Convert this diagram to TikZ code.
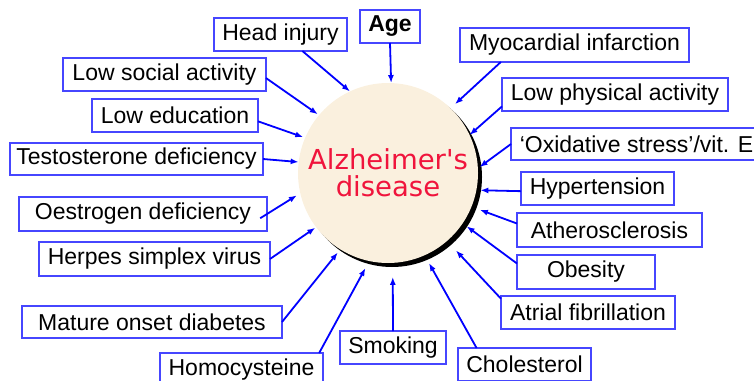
\documentclass[tikz,border=0pt]{standalone}
\usepackage{fontspec}
\setmainfont{Liberation Sans}
\newfontfamily\alzfont{DejaVu Sans}
\usetikzlibrary{arrows.meta,shadows}
\definecolor{riskblue}{RGB}{0,0,255}
\definecolor{boxblue}{RGB}{70,70,255}
\definecolor{alzred}{RGB}{240,20,60}
\definecolor{alzbeige}{RGB}{250,240,222}
\tikzset{
  factor/.style={draw=boxblue, line width=1.5pt, minimum height=33pt,
    inner sep=0pt, outer sep=0pt, font=\fontsize{23}{27}\selectfont},
  riskarrow/.style={-{Latex[length=8pt,width=6pt]}, riskblue, line width=1.8pt}
}

\begin{document}
\begin{tikzpicture}[x=1pt, y=-1pt]
  \useasboundingbox (0,0) rectangle (754,380);

  % Central disease
  \node[circle, fill=alzbeige, minimum size=180pt, inner sep=0pt,
    outer sep=0pt, align=center, text=alzred,
    font=\alzfont\fontsize{27.5}{27}\selectfont,
    drop shadow={shadow xshift=4pt, shadow yshift=-4pt, opacity=1, fill=black}]
    (alz) at (388,173) {Alzheimer's\\disease};

  % Risk factors, left side
  \node[factor, minimum width=133pt] (headinj) at (280.5,34.5) {Head injury};
  \node[factor, minimum width=60pt, font=\fontsize{23}{27}\selectfont\bfseries]
    (age) at (390,26.5) {Age};
  \node[factor, minimum width=203pt] (lowsocial) at (164.5,74.5) {Low social activity};
  \node[factor, minimum width=166pt] (lowedu) at (175,115.5) {Low education};
  \node[factor, minimum width=253pt, minimum height=32pt]
    (testo) at (136.5,159) {Testosterone deficiency};
  \node[factor, minimum width=248pt, minimum height=34pt]
    (oestro) at (143,214) {Oestrogen deficiency};
  \node[factor, minimum width=231pt, minimum height=34pt]
    (herpes) at (154.5,259) {Herpes simplex virus};
  \node[factor, minimum width=260pt, minimum height=32pt]
    (mature) at (152,322) {Mature onset diabetes};
  \node[factor, minimum width=163pt] (homocys) at (241.5,369.5) {Homocysteine};
  \node[factor, minimum width=106pt] (smoking) at (393,347.5) {Smoking};

  % Risk factors, right side
  \node[factor, minimum width=133pt] (cholest) at (524.5,364.5) {Cholesterol};
  \node[factor, minimum width=174pt] (atrial) at (588,312.5) {Atrial fibrillation};
  \node[factor, minimum width=138pt, minimum height=34pt]
    (obesity) at (586,272) {Obesity};
  \node[factor, minimum width=185pt, minimum height=34pt]
    (athero) at (609.5,230) {Atherosclerosis};
  \node[factor, minimum width=153pt] (hypert) at (597.5,188.5) {Hypertension};
  \node[factor, minimum width=251pt, minimum height=32pt]
    (oxid) at (636.5,144) {‘Oxidative stress’/vit. E};
  \node[factor, minimum width=226pt] (lowphys) at (615,94.5) {Low physical activity};
  \node[factor, minimum width=229pt, minimum height=34pt]
    (myocard) at (574.5,45) {Myocardial infarction};

  % Arrows into the disease
  \draw[riskarrow] (headinj.-37.5) -- (alz.115);
  \draw[riskarrow] (age.south) -- (alz.88);
  \draw[riskarrow, shorten >=1.5pt] (lowsocial.-2) -- (alz.140);
  \draw[riskarrow, shorten >=2pt] (lowedu.-4.5) -- (alz.157.6);
  \draw[riskarrow] (testo.east) -- (alz.173);
  \draw[riskarrow, shorten >=4pt, shorten <=-8pt] (oestro.east) -- (alz.-167);
  \draw[riskarrow, shorten >=1pt] (herpes.east) -- (alz.-143.5);
  \draw[riskarrow, shorten >=4pt] (mature.east) -- (alz.-122.8);
  \draw[riskarrow, shorten >=8pt] (homocys.12.5) -- (alz.-102.3);
  \draw[riskarrow, shorten >=14pt] (smoking.north) -- (alz.-87.8);
  \draw[riskarrow, shorten >=9pt] (cholest.161.5) -- (alz.-66.8);
  \draw[riskarrow, shorten >=13pt] (atrial.171.8) -- (alz.-49.7);
  \draw[riskarrow, shorten >=5pt] (obesity.173.4) -- (alz.-34.7);
  \draw[riskarrow, shorten >=9pt] (athero.176.9) -- (alz.-22);
  \draw[riskarrow, shorten >=4pt] (hypert.182) -- (alz.-11);
  \draw[riskarrow, shorten >=2pt] (oxid.west) -- (alz.3.7);
  \draw[riskarrow] (lowphys.186.5) -- (alz.25);
  \draw[riskarrow, shorten >=6pt] (myocard.193.2) -- (alz.46.7);

\end{tikzpicture}
\end{document}
